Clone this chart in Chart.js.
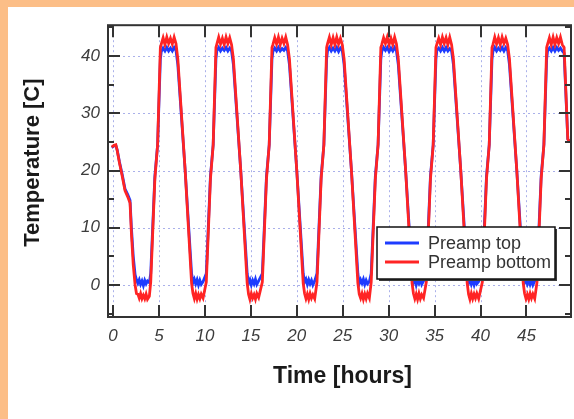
<!DOCTYPE html>
<html>
<head>
<meta charset="utf-8">
<script src="https://cdn.jsdelivr.net/npm/chart.js@4.4.1/dist/chart.umd.min.js"></script>
<style>
  html, body { margin: 0; padding: 0; width: 574px; height: 419px; overflow: hidden; background: #fcbe87; }
  #panel { position: absolute; left: 8px; top: 7px; width: 566px; height: 412px; background: #ffffff; }
  canvas { display: block; }
</style>
</head>
<body>
<div id="panel"><canvas id="c" width="566" height="412"></canvas></div>
<script>
// ---- data ----
const seriesLabels = ['Preamp top', 'Preamp bottom'];
const xTitle = 'Time [hours]';
const yTitle = 'Temperature [C]';

const hours = [
  -0.15, 0.1, 0.3, 0.45, 0.7, 1.0, 1.3, 1.6, 1.85, 2.0, 2.2, 2.4, 2.55,
  2.7, 2.85, 3.0, 3.15, 3.3, 3.45, 3.6, 3.75, 3.95,
  4.1, 4.55, 4.85, 5.15,
  5.25, 5.45, 5.65, 5.85, 6.05, 6.25, 6.45, 6.65, 6.85,
  7.05, 7.85, 8.55,
  8.7, 8.85, 9.0, 9.15, 9.3, 9.45, 9.6, 9.8,
  10.15, 10.6, 10.9, 11.2,
  11.3, 11.5, 11.7, 11.9, 12.1, 12.3, 12.5, 12.7, 12.9,
  13.1, 13.9, 14.6,
  14.75, 14.9, 15.05, 15.2, 15.35, 15.5, 15.65, 15.85,
  16.25, 16.7, 17.0, 17.3,
  17.4, 17.6, 17.8, 18.0, 18.2, 18.4, 18.6, 18.8, 19.0,
  19.2, 20.0, 20.7,
  20.85, 21.0, 21.15, 21.3, 21.45, 21.6, 21.75, 21.95,
  22.2, 22.65, 22.95, 23.25,
  23.35, 23.55, 23.75, 23.95, 24.15, 24.35, 24.55, 24.75, 24.95,
  25.15, 25.95, 26.65,
  26.8, 26.95, 27.1, 27.25, 27.4, 27.55, 27.7, 27.9,
  28.1, 28.55, 28.85, 29.15,
  29.25, 29.45, 29.65, 29.85, 30.05, 30.25, 30.45, 30.65, 30.85,
  31.05, 31.85, 32.55,
  32.7, 32.85, 33.0, 33.15, 33.3, 33.45, 33.6, 33.8,
  34.1, 34.55, 34.85, 35.15,
  35.25, 35.45, 35.65, 35.85, 36.05, 36.25, 36.45, 36.65, 36.85,
  37.05, 37.85, 38.55,
  38.7, 38.85, 39.0, 39.15, 39.3, 39.45, 39.6, 39.8,
  40.2, 40.65, 40.95, 41.25,
  41.35, 41.55, 41.75, 41.95, 42.15, 42.35, 42.55, 42.75, 42.95,
  43.15, 43.95, 44.65,
  44.8, 44.95, 45.1, 45.25, 45.4, 45.55, 45.7, 45.9,
  46.15, 46.6, 46.9, 47.2,
  47.3, 47.5, 47.7, 47.9, 48.1, 48.3, 48.5, 48.7, 48.9,
  49.1, 49.5, 49.7
];

const topTemps = [
  24.0, 24.3, 24.4, 23.6, 21.5, 19.3, 16.8, 15.8, 14.8, 10.0, 5.0, 1.8, 0.9,
  0.3, 0.9, 0.1, 0.7, -0.1, 0.8, 0.2, 0.7, 0.4,
  2.0, 19.0, 24.5, 39.5,
  40.8, 41.4, 40.9, 41.5, 40.9, 41.4, 40.9, 41.5, 41.0,
  38.5, 20.0, 2.0,
  0.4, 1.0, 0.2, 0.9, 0.0, 0.8, 0.1, 0.6,
  2.0, 19.0, 24.5, 39.5,
  40.9, 41.5, 40.9, 41.4, 41.0, 41.5, 40.9, 41.4, 40.9,
  38.5, 20.0, 2.0,
  0.3, 0.9, 0.0, 0.8, 0.2, 1.0, 0.1, 0.7,
  2.0, 19.0, 24.5, 39.5,
  40.8, 41.4, 40.9, 41.5, 40.9, 41.3, 41.0, 41.5, 40.9,
  38.5, 20.0, 2.0,
  0.5, 1.0, 0.1, 0.9, 0.2, 0.8, 0.0, 0.7,
  2.0, 19.0, 24.5, 39.5,
  40.9, 41.5, 40.9, 41.4, 40.9, 41.5, 40.8, 41.4, 41.0,
  38.5, 20.0, 2.0,
  0.2, 0.9, 0.3, 1.0, 0.1, 0.8, 0.2, 0.6,
  2.0, 19.0, 24.5, 39.5,
  40.8, 41.5, 41.0, 41.5, 40.8, 41.4, 40.9, 41.5, 40.9,
  38.5, 20.0, 2.0,
  0.4, 1.0, 0.0, 0.9, 0.3, 1.0, 0.1, 0.7,
  2.0, 19.0, 24.5, 39.5,
  41.0, 41.4, 40.9, 41.5, 40.9, 41.5, 40.9, 41.3, 40.9,
  38.5, 20.0, 2.0,
  0.3, 0.9, 0.1, 0.8, 0.0, 0.9, 0.2, 0.6,
  2.0, 19.0, 24.5, 39.5,
  40.8, 41.5, 40.9, 41.4, 41.0, 41.5, 40.9, 41.5, 41.0,
  38.5, 20.0, 2.0,
  0.4, 1.0, 0.2, 0.9, 0.1, 0.8, 0.0, 0.7,
  2.0, 19.0, 24.5, 39.5,
  40.9, 41.4, 40.9, 41.5, 40.9, 41.5, 41.0, 41.4, 40.9,
  40.5, 25.5, 25.0
];

const bottomTemps = [
  24.1, 24.4, 24.5, 23.5, 21.3, 19.0, 16.5, 15.4, 14.3, 9.0, 3.5, 0.0, -1.5,
  -1.6, -2.3, -1.5, -2.4, -1.8, -2.4, -1.6, -2.5, -2.0,
  0.5, 18.5, 24.5, 41.5,
  42.1, 43.2, 42.0, 43.3, 42.2, 43.1, 42.1, 43.3, 42.2,
  39.5, 20.0, 0.3,
  -1.5, -2.4, -1.5, -2.5, -1.7, -2.4, -1.6, -2.3,
  0.5, 18.5, 24.5, 41.5,
  42.1, 43.3, 42.1, 43.1, 42.0, 43.3, 42.2, 43.2, 42.0,
  39.5, 20.0, 0.3,
  -1.6, -2.5, -1.5, -2.3, -1.7, -2.5, -1.5, -2.2,
  0.5, 18.5, 24.5, 41.5,
  42.0, 43.2, 42.1, 43.3, 42.0, 43.1, 42.2, 43.3, 42.0,
  39.5, 20.0, 0.3,
  -1.5, -2.4, -1.6, -2.5, -1.5, -2.3, -1.7, -2.4,
  0.5, 18.5, 24.5, 41.5,
  42.2, 43.3, 42.0, 43.2, 42.0, 43.3, 42.1, 43.1, 42.0,
  39.5, 20.0, 0.3,
  -1.6, -2.3, -1.5, -2.5, -1.6, -2.4, -1.5, -2.3,
  0.5, 18.5, 24.5, 41.5,
  42.0, 43.2, 42.2, 43.3, 42.0, 43.1, 42.0, 43.3, 42.1,
  39.5, 20.0, 0.3,
  -1.5, -2.4, -1.6, -2.5, -1.5, -2.4, -1.7, -2.3,
  0.5, 18.5, 24.5, 41.5,
  42.1, 43.1, 42.0, 43.3, 42.2, 43.2, 42.0, 43.3, 42.0,
  39.5, 20.0, 0.3,
  -1.6, -2.5, -1.5, -2.4, -1.6, -2.3, -1.5, -2.4,
  0.5, 18.5, 24.5, 41.5,
  42.0, 43.3, 42.1, 43.2, 42.0, 43.3, 42.2, 43.1, 42.0,
  39.5, 20.0, 0.3,
  -1.5, -2.4, -1.7, -2.5, -1.5, -2.3, -1.6, -2.4,
  0.5, 18.5, 24.5, 41.5,
  42.1, 43.2, 42.0, 43.3, 42.0, 43.2, 42.2, 43.3, 42.0,
  41.5, 25.5, 25.0
];

const xTickValues = [0, 5, 10, 15, 20, 25, 30, 35, 40, 45];
const yTickValues = [0, 10, 20, 30, 40];
const yMinorTickValues = [-5, 5, 15, 25, 35, 45];

// ---- styling ----
const BLUE = '#1e3cff';
const RED = '#ff2424';
const FONT = '"Liberation Sans", Arial, Helvetica, sans-serif';

const decoPlugin = {
  id: 'deco',
  beforeDatasetsDraw(chart) {
    const { ctx, chartArea: a, scales: { x, y } } = chart;
    ctx.save();
    ctx.strokeStyle = '#aab0ea';
    ctx.lineWidth = 1;
    ctx.setLineDash([2, 3]);
    xTickValues.forEach(v => {
      const px = Math.round(x.getPixelForValue(v)) + 0.5;
      ctx.beginPath(); ctx.moveTo(px, a.top); ctx.lineTo(px, a.bottom); ctx.stroke();
    });
    yTickValues.forEach(v => {
      const py = Math.round(y.getPixelForValue(v)) + 0.5;
      ctx.beginPath(); ctx.moveTo(a.left, py); ctx.lineTo(a.right, py); ctx.stroke();
    });
    ctx.restore();
  },
  afterDatasetsDraw(chart) {
    const { ctx, chartArea: a, scales: { x, y } } = chart;
    ctx.save();
    ctx.strokeStyle = '#333333';
    ctx.lineWidth = 2;
    ctx.setLineDash([]);
    ctx.strokeRect(a.left, a.top, a.right - a.left, a.bottom - a.top);
    const major = 12, minor = 6;
    ctx.beginPath();
    xTickValues.forEach(v => {
      const px = Math.round(x.getPixelForValue(v));
      ctx.moveTo(px, a.bottom); ctx.lineTo(px, a.bottom - major);
      ctx.moveTo(px, a.top); ctx.lineTo(px, a.top + major);
    });
    yTickValues.forEach(v => {
      const py = Math.round(y.getPixelForValue(v));
      ctx.moveTo(a.left, py); ctx.lineTo(a.left + major, py);
      ctx.moveTo(a.right, py); ctx.lineTo(a.right - major, py);
    });
    yMinorTickValues.forEach(v => {
      if (v < y.min || v > y.max) return;
      const py = Math.round(y.getPixelForValue(v));
      ctx.moveTo(a.left, py); ctx.lineTo(a.left + minor, py);
      ctx.moveTo(a.right, py); ctx.lineTo(a.right - minor, py);
    });
    ctx.stroke();

    // axis titles
    ctx.fillStyle = '#1a1a1a';
    ctx.textAlign = 'center';
    ctx.textBaseline = 'middle';
    ctx.font = 'bold 23px ' + FONT;
    ctx.fillText(xTitle, (a.left + a.right) / 2 + 3, a.bottom + 60);
    ctx.save();
    ctx.translate(25, (a.top + a.bottom) / 2 - 8.5);
    ctx.rotate(-Math.PI / 2);
    ctx.font = 'bold 22px ' + FONT;
    ctx.fillText(yTitle, 0, 0);
    ctx.restore();

    // legend box
    const lx = 369, ly = 220, lw = 178, lh = 52;
    ctx.fillStyle = '#3a3a3a';
    ctx.fillRect(lx + 2, ly + 2, lw, lh);
    ctx.fillStyle = '#ffffff';
    ctx.fillRect(lx, ly, lw, lh);
    ctx.strokeStyle = '#111111';
    ctx.lineWidth = 1.5;
    ctx.strokeRect(lx, ly, lw, lh);
    const ds = chart.data.datasets;
    const rows = [ly + 16, ly + 35];
    ds.forEach((d, i) => {
      ctx.strokeStyle = d.borderColor;
      ctx.lineWidth = 3;
      ctx.beginPath(); ctx.moveTo(lx + 8, rows[i]); ctx.lineTo(lx + 42, rows[i]); ctx.stroke();
      ctx.fillStyle = '#333333';
      ctx.font = '18px ' + FONT;
      ctx.textBaseline = 'middle';
      ctx.textAlign = 'left';
      ctx.fillText(d.label, lx + 51, rows[i] + 1);
    });
    ctx.restore();
  }
};

const toPoints = vals => hours.map((h, i) => ({ x: h, y: vals[i] }));

new Chart(document.getElementById('c').getContext('2d'), {
  type: 'line',
  data: {
    datasets: [
      { label: seriesLabels[0], data: toPoints(topTemps), borderColor: BLUE, backgroundColor: BLUE,
        borderWidth: 2.8, pointRadius: 0, tension: 0, order: 2 },
      { label: seriesLabels[1], data: toPoints(bottomTemps), borderColor: RED, backgroundColor: RED,
        borderWidth: 2.8, pointRadius: 0, tension: 0, order: 1 }
    ]
  },
  options: {
    responsive: false,
    animation: false,
    events: [],
    layout: { padding: { left: 0, right: 3, top: 18, bottom: 0 } },
    plugins: { legend: { display: false }, tooltip: { enabled: false } },
    scales: {
      x: {
        type: 'linear', min: -0.55, max: 49.85,
        afterBuildTicks: s => { s.ticks = xTickValues.map(v => ({ value: v })); },
        afterFit: s => { s.height = 102; },
        grid: { display: false, drawTicks: false },
        border: { display: false },
        ticks: { color: '#3c3c3c', padding: 9, maxRotation: 0, autoSkip: false,
                 font: { family: FONT, size: 17, style: 'italic' } },
        title: { display: false }
      },
      y: {
        type: 'linear', min: -5.6, max: 45.4,
        afterBuildTicks: s => { s.ticks = yTickValues.map(v => ({ value: v })); },
        afterFit: s => { s.width = 100; },
        grid: { display: false, drawTicks: false },
        border: { display: false },
        ticks: { color: '#3c3c3c', padding: 8,
                 font: { family: FONT, size: 17, style: 'italic' } },
        title: { display: false }
      }
    }
  },
  plugins: [decoPlugin]
});
</script>
</body>
</html>
